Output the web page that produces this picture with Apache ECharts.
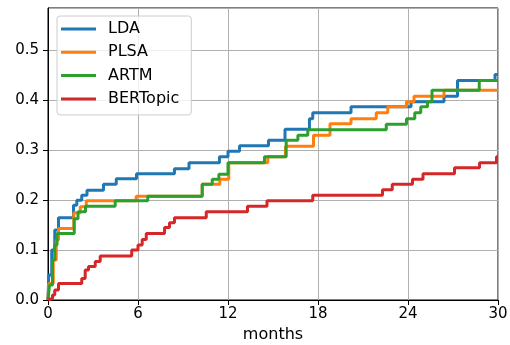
<!DOCTYPE html>
<html>
<head>
<meta charset="utf-8">
<script src="https://cdn.jsdelivr.net/npm/echarts@6/dist/echarts.min.js"></script>
<style>
  html, body { margin: 0; padding: 0; background: #fff; }
  #chart { width: 510px; height: 345px; }
</style>
</head>
<body>
<div id="chart"></div>
<script>
// step points, months / value
var ldaX = [0, 0.05, 0.25, 0.45, 0.7, 1.7, 1.92, 2.25, 2.6, 3.7, 4.55, 5.9, 8.43, 9.4, 11.43, 12.0, 12.77, 14.7, 15.8, 17.43, 17.65, 20.2, 24.2, 26.4, 27.3, 29.8, 30];
var ldaY = [0, 0.05, 0.1, 0.14, 0.165, 0.19, 0.2, 0.21, 0.22, 0.232, 0.243, 0.253, 0.263, 0.275, 0.287, 0.298, 0.309, 0.32, 0.342, 0.363, 0.375, 0.387, 0.397, 0.408, 0.44, 0.452, 0.452];

var plsaX = [0, 0.05, 0.35, 0.55, 0.7, 1.72, 2.15, 2.55, 5.88, 10.28, 11.45, 12.05, 14.65, 15.83, 17.7, 18.8, 20.2, 21.88, 22.65, 23.9, 24.4, 26.4, 30];
var plsaY = [0, 0.033, 0.08, 0.12, 0.143, 0.175, 0.187, 0.199, 0.208, 0.232, 0.242, 0.275, 0.287, 0.308, 0.33, 0.353, 0.363, 0.375, 0.387, 0.397, 0.408, 0.42, 0.42];

var artmX = [0, 0.1, 0.3, 0.45, 0.6, 1.75, 2.0, 2.5, 4.48, 6.65, 10.28, 10.95, 11.39, 12.0, 14.43, 15.88, 16.66, 17.32, 22.55, 23.9, 24.45, 24.85, 25.3, 25.6, 28.75, 30];
var artmY = [0, 0.03, 0.08, 0.11, 0.133, 0.163, 0.177, 0.188, 0.199, 0.208, 0.232, 0.242, 0.252, 0.275, 0.287, 0.32, 0.33, 0.341, 0.352, 0.363, 0.375, 0.387, 0.397, 0.42, 0.44, 0.44];

var bertX = [0, 0.1, 0.3, 0.45, 0.7, 2.25, 2.48, 2.7, 3.15, 3.48, 5.58, 6.0, 6.28, 6.55, 7.77, 8.1, 8.43, 10.55, 13.3, 14.6, 17.65, 22.3, 22.95, 24.3, 25.0, 27.1, 28.77, 29.9, 30];
var bertY = [0, 0.003, 0.01, 0.02, 0.033, 0.043, 0.06, 0.067, 0.077, 0.088, 0.1, 0.11, 0.121, 0.133, 0.145, 0.155, 0.165, 0.177, 0.188, 0.199, 0.21, 0.221, 0.232, 0.242, 0.253, 0.265, 0.275, 0.287, 0.287];

var names = ['LDA', 'PLSA', 'ARTM', 'BERTopic'];
var colors = ['#1f77b4', '#ff7f0e', '#2ca02c', '#d62728'];
var xTicks = [0, 6, 12, 18, 24, 30];

function pairs(xs, ys) {
    var out = [];
    for (var i = 0; i < xs.length; i++) out.push([xs[i], ys[i]]);
    return out;
}

var allData = [pairs(ldaX, ldaY), pairs(plsaX, plsaY), pairs(artmX, artmY), pairs(bertX, bertY)];

var chart = echarts.init(document.getElementById('chart'), null, {renderer: 'canvas'});

var font = 'DejaVu Sans';
var series = [];
for (var k = 0; k < names.length; k++) {
    series.push({
        name: names[k],
        type: 'line',
        step: 'end',
        data: allData[k],
        showSymbol: false,
        symbol: 'none',
        lineStyle: {color: colors[k], width: 3},
        itemStyle: {color: colors[k]},
        animation: false
    });
}

var option = {
    animation: false,
    textStyle: {fontFamily: font},
    grid: {
        left: 48, right: 12, top: 8, bottom: 45,
        outerBoundsMode: 'none',
        show: true, borderColor: '#000', borderWidth: 1
    },
    legend: {
        orient: 'vertical',
        left: 57, top: 16,
        icon: 'rect',
        itemWidth: 35, itemHeight: 3,
        itemGap: 7.3,
        padding: [5, 12, 8, 4],
        backgroundColor: 'rgba(255,255,255,0.8)',
        borderColor: '#cccccc', borderWidth: 1, borderRadius: 3,
        textStyle: {fontFamily: font, fontSize: 16, color: '#000', lineHeight: 16, padding: [0, 0, 0, 7]},
        data: names
    },
    xAxis: {
        type: 'value',
        min: 0, max: 30, interval: 6,
        name: 'months',
        nameLocation: 'middle',
        nameGap: 27,
        nameTextStyle: {fontFamily: font, fontSize: 16, color: '#000'},
        axisLine: {show: true, lineStyle: {color: '#000', width: 1}},
        axisTick: {show: true, length: 5, lineStyle: {color: '#000'}},
        axisLabel: {
            color: '#000', fontFamily: font, fontSize: 15, margin: 7,
            formatter: function (v) { return xTicks.indexOf(v) >= 0 ? String(v) : ''; }
        },
        splitLine: {show: true, lineStyle: {color: '#b0b0b0', width: 1}}
    },
    yAxis: {
        type: 'value',
        min: 0, max: 0.585, interval: 0.1,
        axisLine: {show: true, lineStyle: {color: '#000', width: 1}},
        axisTick: {show: true, length: 5, lineStyle: {color: '#000'}},
        axisLabel: {
            color: '#000', fontFamily: font, fontSize: 15, margin: 9,
            showMaxLabel: false,
            formatter: function (v) { return v.toFixed(1); }
        },
        splitLine: {show: true, lineStyle: {color: '#b0b0b0', width: 1}}
    },
    series: series
};

chart.setOption(option);
</script>
</body>
</html>
